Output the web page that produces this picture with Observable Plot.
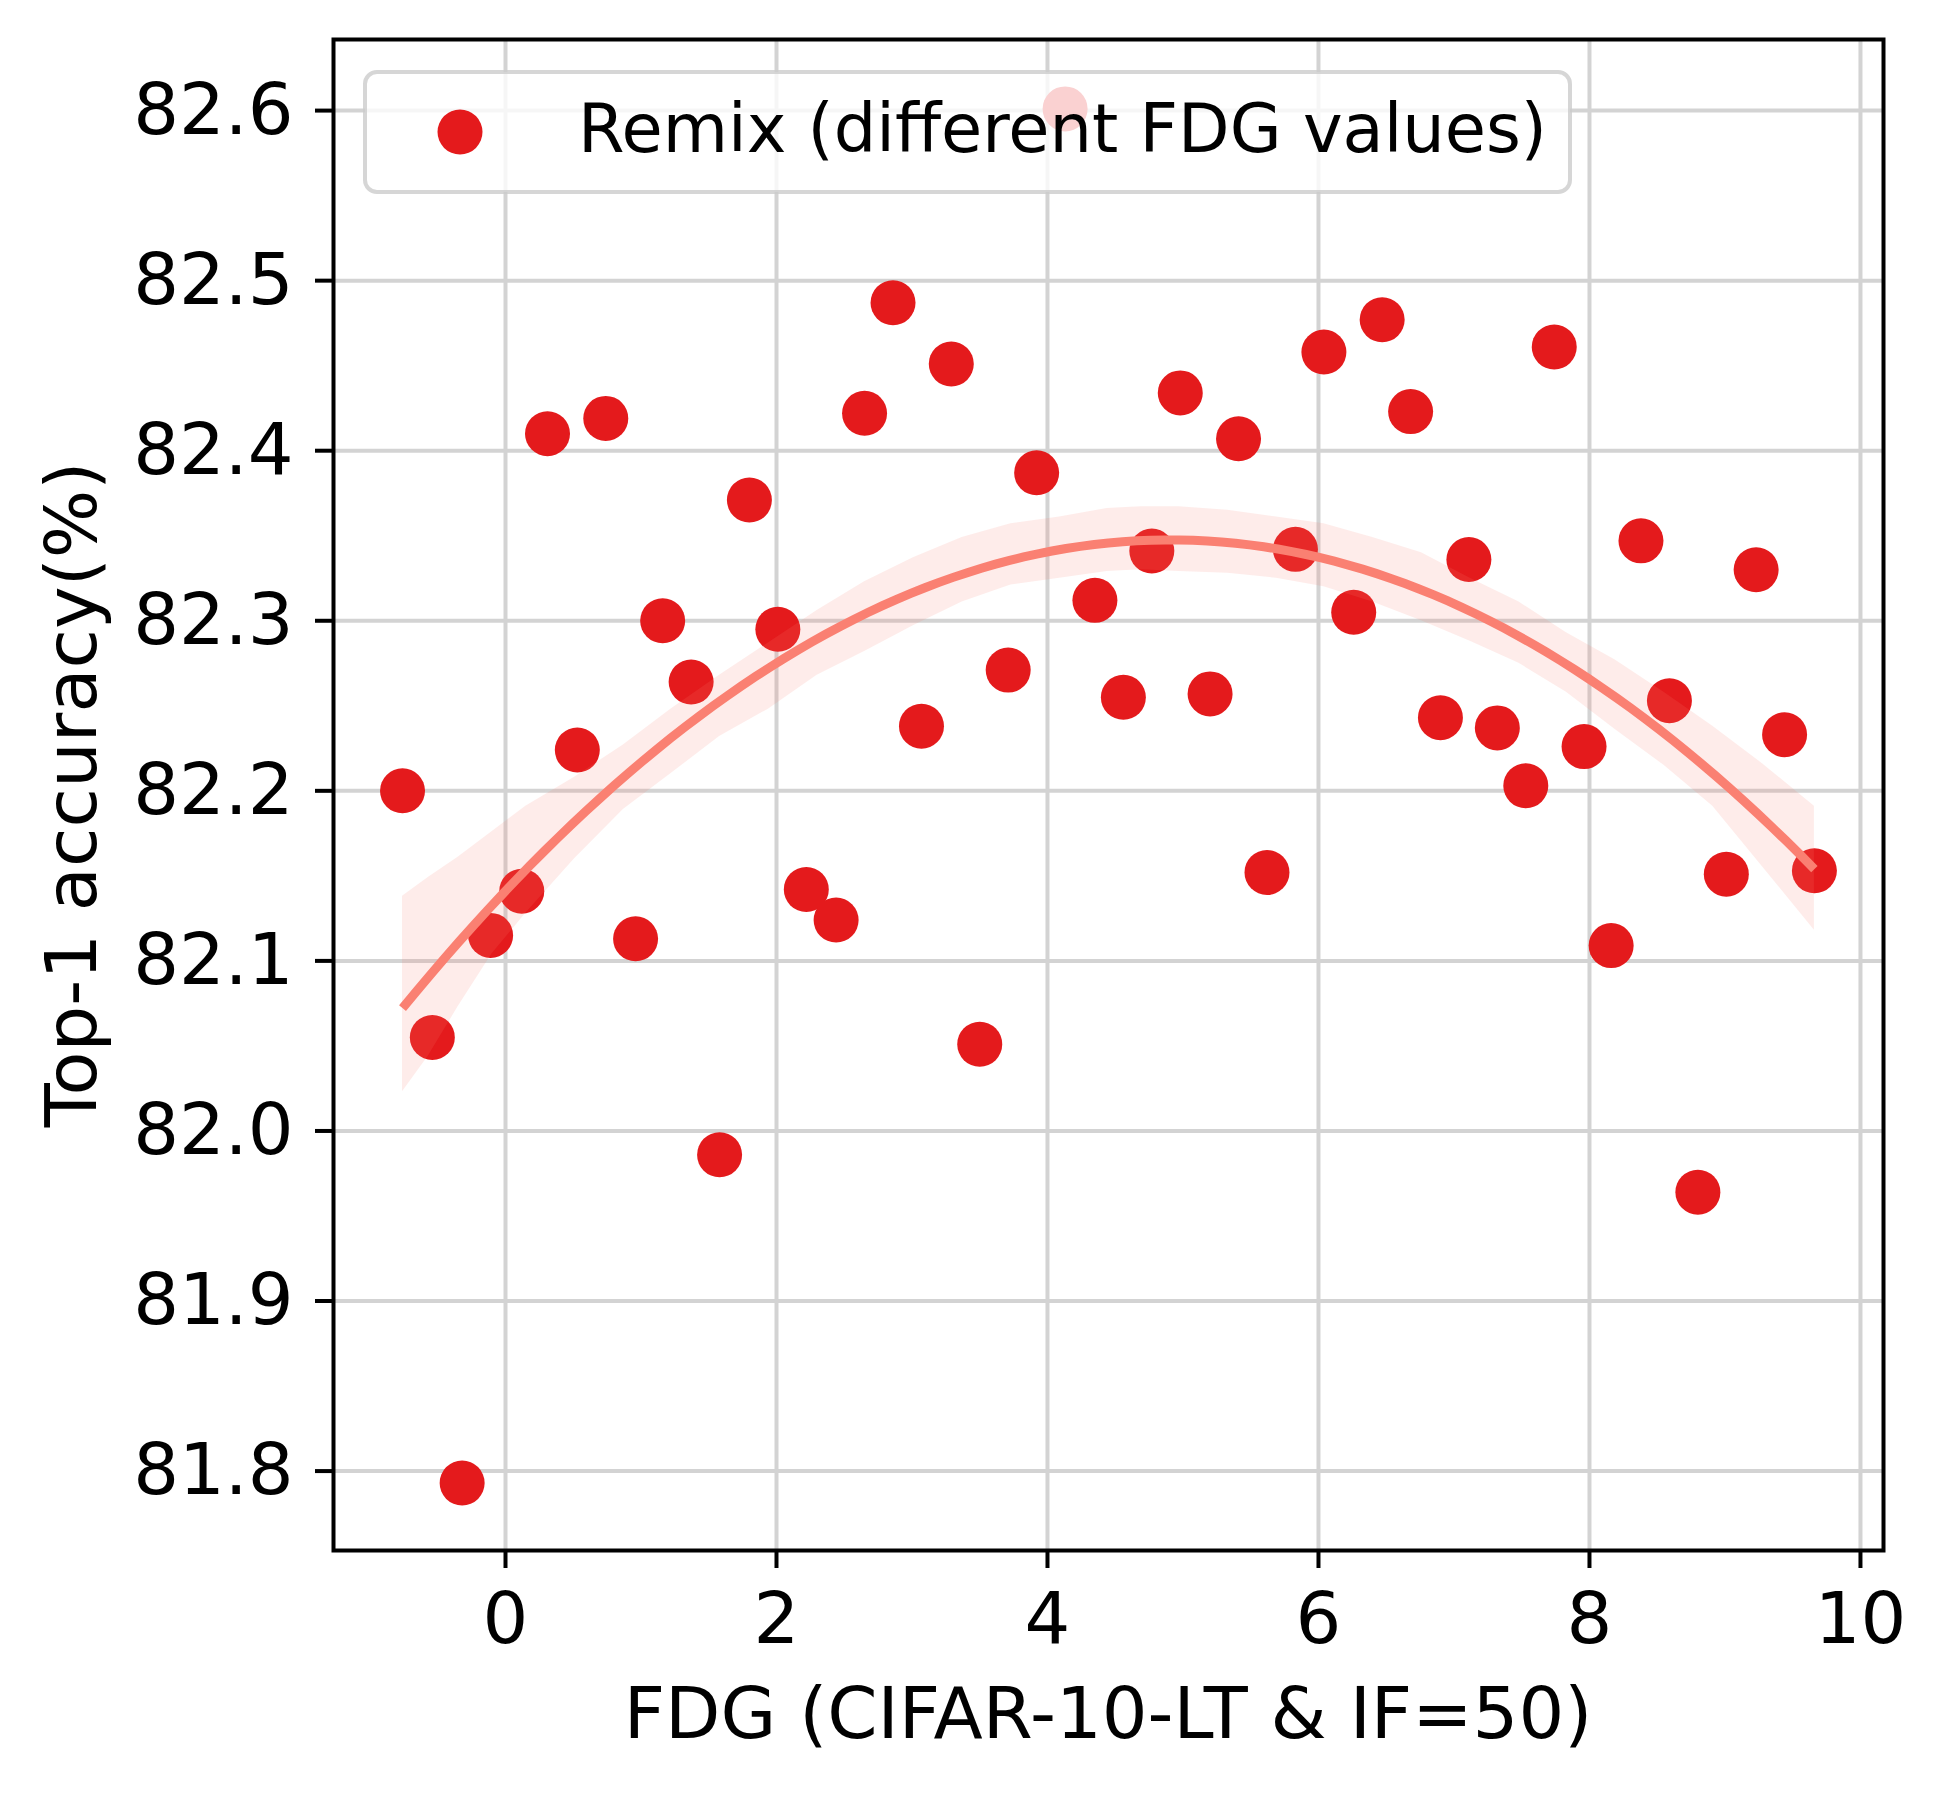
<!DOCTYPE html>
<html>
<head>
<meta charset="utf-8">
<script src="https://cdn.jsdelivr.net/npm/d3@7"></script>
<script src="https://cdn.jsdelivr.net/npm/@observablehq/plot@0.6"></script>
<style>
  html, body { margin: 0; padding: 0; background: #ffffff; }
  svg { display: block; }
</style>
</head>
<body>
<div id="chart"></div>
<script>
// ---- Data ----
const fdg = [-0.76, -0.54, -0.32, -0.11, 0.12, 0.31, 0.53, 0.74, 0.96, 1.16,
             1.37, 1.58, 1.80, 2.01, 2.22, 2.44, 2.65, 2.86, 3.07, 3.29,
             3.50, 3.71, 3.92, 4.13, 4.35, 4.56, 4.77, 4.98, 5.20, 5.41,
             5.62, 5.83, 6.04, 6.26, 6.47, 6.68, 6.90, 7.11, 7.32, 7.53,
             7.74, 7.96, 8.16, 8.38, 8.59, 8.80, 9.01, 9.23, 9.44, 9.66];
const acc = [82.200, 82.055, 81.793, 82.115, 82.141, 82.410, 82.224, 82.419, 82.113, 82.300,
             82.264, 81.986, 82.371, 82.295, 82.142, 82.124, 82.422, 82.487, 82.238, 82.451,
             82.051, 82.271, 82.387, 82.601, 82.312, 82.255, 82.341, 82.434, 82.257, 82.407,
             82.152, 82.342, 82.458, 82.305, 82.477, 82.423, 82.243, 82.336, 82.237, 82.203,
             82.461, 82.226, 82.109, 82.347, 82.253, 81.964, 82.151, 82.330, 82.233, 82.153];

// confidence band of the fitted curve
const bandX  = [-0.76, -0.57, -0.35, -0.10, 0.15, 0.51, 0.87, 1.22, 1.58, 1.94, 2.30, 2.65, 3.01, 3.37, 3.73, 4.09,
                4.44, 4.69, 4.97, 5.33, 5.69, 6.04, 6.40, 6.76, 7.12, 7.48, 7.83, 8.19, 8.55, 8.91, 9.26, 9.66];
const bandHi = [82.138, 82.149, 82.161, 82.176, 82.191, 82.208, 82.227, 82.248, 82.268, 82.287, 82.306, 82.323, 82.337, 82.349, 82.357, 82.361,
                82.366, 82.367, 82.367, 82.365, 82.361, 82.357, 82.349, 82.340, 82.325, 82.311, 82.293, 82.277, 82.258, 82.238, 82.217, 82.191];
const bandLo = [82.023, 82.044, 82.073, 82.104, 82.128, 82.160, 82.189, 82.210, 82.232, 82.248, 82.268, 82.282, 82.297, 82.311, 82.321, 82.325,
                82.329, 82.330, 82.329, 82.328, 82.325, 82.320, 82.311, 82.300, 82.288, 82.275, 82.258, 82.236, 82.215, 82.191, 82.157, 82.118];

const xTicks = [0, 2, 4, 6, 8, 10];
const yTicks = [81.8, 81.9, 82.0, 82.1, 82.2, 82.3, 82.4, 82.5, 82.6];
const seriesLabel = "Remix (different FDG values)";
const xLabel = "FDG (CIFAR-10-LT & IF=50)";
const yLabel = "Top-1 accuracy(%)";

// ---- Derived tables ----
const points = fdg.map((x, i) => ({x, y: acc[i]}));
const band = bandX.map((x, i) => ({x, lo: bandLo[i], hi: bandHi[i]}));

// order-2 least-squares fit of the points (as seaborn regplot order=2)
function quadFit(xs, ys) {
  const S = [0, 0, 0, 0, 0], T = [0, 0, 0];
  xs.forEach((x, i) => {
    for (let k = 0; k < 5; k++) S[k] += Math.pow(x, k);
    for (let k = 0; k < 3; k++) T[k] += ys[i] * Math.pow(x, k);
  });
  const A = [[S[0], S[1], S[2], T[0]], [S[1], S[2], S[3], T[1]], [S[2], S[3], S[4], T[2]]];
  for (let c = 0; c < 3; c++) {
    for (let r = c + 1; r < 3; r++) {
      const f = A[r][c] / A[c][c];
      for (let k = c; k < 4; k++) A[r][k] -= f * A[c][k];
    }
  }
  const b = [0, 0, 0];
  for (let r = 2; r >= 0; r--) {
    let s = A[r][3];
    for (let k = r + 1; k < 3; k++) s -= A[r][k] * b[k];
    b[r] = s / A[r][r];
  }
  return b;
}
const coef = quadFit(fdg, acc);
const xmin = d3.min(fdg), xmax = d3.max(fdg);
const fitLine = d3.range(101).map(i => {
  const x = xmin + (xmax - xmin) * i / 100;
  return {x, y: coef[0] + coef[1] * x + coef[2] * x * x};
});

// ---- Layout ----
const W = 1946, H = 1793;
const mL = 333, mR = 63, mT = 39, mB = 243;
const FONT = "DejaVu Sans";
const red = "#e41a1c", salmon = "#fa8072", grid = "#d3d3d3";

const chart = Plot.plot({
  width: W, height: H,
  marginLeft: mL, marginRight: mR, marginTop: mT, marginBottom: mB,
  style: {fontFamily: FONT, fontSize: "72px", color: "#000", background: "#fff"},
  x: {domain: [-1.2694, 10.170]},
  y: {domain: [81.7533, 82.6418]},
  marks: [
    Plot.gridX(xTicks, {stroke: grid, strokeOpacity: 1, strokeWidth: 4}),
    Plot.gridY(yTicks, {stroke: grid, strokeOpacity: 1, strokeWidth: 4}),
    Plot.dot(points, {x: "x", y: "y", r: 22.5, fill: red, stroke: "none"}),
    Plot.areaY(band, {x: "x", y1: "lo", y2: "hi", fill: salmon, fillOpacity: 0.15}),
    Plot.line(fitLine, {x: "x", y: "y", stroke: salmon, strokeWidth: 9, strokeLinecap: "butt"}),
    Plot.axisX(xTicks, {tickSize: 18, tickPadding: 23, strokeWidth: 4, label: null, tickFormat: d => String(d)}),
    Plot.axisY(yTicks, {tickSize: 18, tickPadding: 22, strokeWidth: 4, label: null, tickFormat: d => d.toFixed(1)}),
    Plot.frame({stroke: "#000", strokeWidth: 4})
  ]
});
document.getElementById("chart").appendChild(chart);

// ---- Axis titles and legend ----
const svg = d3.select(chart);
svg.append("text")
  .attr("x", (mL + (W - mR)) / 2).attr("y", 1738)
  .attr("text-anchor", "middle")
  .attr("font-family", FONT).attr("font-size", 72).attr("fill", "#000")
  .text(xLabel);
svg.append("text")
  .attr("transform", `translate(96,${(mT + (H - mB)) / 2}) rotate(-90)`)
  .attr("text-anchor", "middle")
  .attr("font-family", FONT).attr("font-size", 72).attr("fill", "#000")
  .text(yLabel);

const lg = svg.append("g");
lg.append("rect")
  .attr("x", 365).attr("y", 72).attr("width", 1205).attr("height", 120)
  .attr("rx", 12).attr("ry", 12)
  .attr("fill", "#fff").attr("fill-opacity", 0.8)
  .attr("stroke", "#cccccc").attr("stroke-opacity", 0.8).attr("stroke-width", 4);
lg.append("circle").attr("cx", 460).attr("cy", 132).attr("r", 22.5).attr("fill", red);
lg.append("text")
  .attr("x", 578).attr("y", 152)
  .attr("text-anchor", "start")
  .attr("font-family", FONT).attr("font-size", 67).attr("fill", "#000")
  .text(seriesLabel);
</script>
</body>
</html>
